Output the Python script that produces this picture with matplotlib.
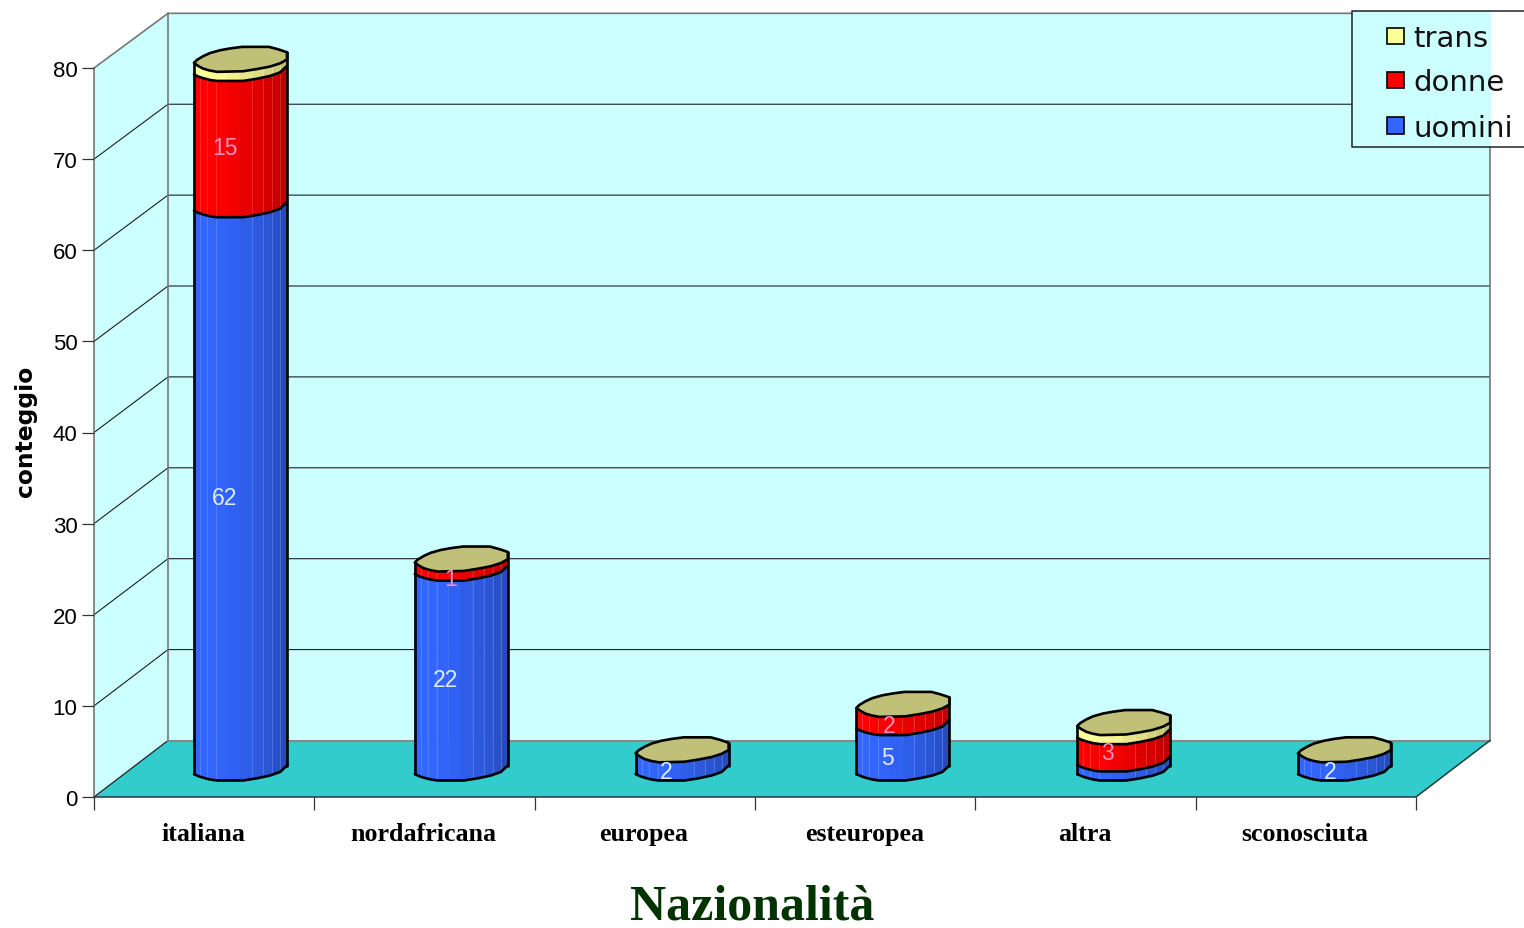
import numpy as np
import matplotlib
matplotlib.use("Agg")
import matplotlib.pyplot as plt
from matplotlib.patches import Polygon, Rectangle
from matplotlib.transforms import ScaledTranslation

categories = ["italiana", "nordafricana", "europea", "esteuropea", "altra", "sconosciuta"]
uomini = [62, 22, 2, 5, 1, 2]
donne = [15, 1, 0, 2, 3, 0]
trans = [1, 0, 0, 0, 1, 0]
series_names = ["uomini", "donne", "trans"]
y_ticks = [0, 10, 20, 30, 40, 50, 60, 70, 80]

W, H = 1524, 929
L_PX, R_PX, B_PX, T_PX = 94, 1416, 798, 69
PX_X = (R_PX - L_PX) / 6
PX_Y = (B_PX - T_PX) / 80
DX, DY = 74 / PX_X, 56.5 / PX_Y
WALL_SCALE = 0.9975

C_WALL, C_FLOOR, C_CAP = "#ccffff", "#33cccc", "#c0c078"
COLORS = ["#3366ff", "#ff0000", "#ffff99"]
C_LABEL = ["#dceaff", "#ff8fc0", "#ffffff"]
EDGE = "#000000"
LW = 1.9

fig = plt.figure(figsize=(W / 100, H / 100), dpi=100, facecolor="white")
ax = fig.add_axes([L_PX / W, 1 - B_PX / H, (R_PX - L_PX) / W, (B_PX - T_PX) / H])
ax.set_xlim(0, 6)
ax.set_ylim(0, 80)
ax.patch.set_visible(False)
for s in ax.spines.values():
    s.set_visible(False)


def poly(pts, **kw):
    p = Polygon(pts, closed=True, clip_on=False, **kw)
    ax.add_patch(p)
    return p


def line(xs, ys, **kw):
    ax.plot(xs, ys, clip_on=False, solid_capstyle="round", solid_joinstyle="round", **kw)


# walls and floor
TOP_BACK = 80 * WALL_SCALE + DY
poly([(DX, DY), (6 + DX, DY), (6 + DX, TOP_BACK), (DX, TOP_BACK)], fc=C_WALL, ec="none", zorder=0)
poly([(0, 0), (DX, DY), (DX, TOP_BACK), (0, 80)], fc=C_WALL, ec="none", zorder=0)
poly([(0, 0), (6, 0), (6 + DX, DY), (DX, DY)], fc=C_FLOOR, ec="none", zorder=0.5)
for v in y_ticks[1:-1]:
    back = v * WALL_SCALE + DY
    line([0, DX, 6 + DX], [v, back, back], color="#111111", lw=0.75, zorder=1)
line([0, DX], [0, DY], color="#222222", lw=0.9, zorder=1)
line([0, DX, 6 + DX, 6 + DX], [80, TOP_BACK, TOP_BACK, DY], color="#777777", lw=1.2, zorder=1)
line([DX, DX], [DY, TOP_BACK], color="#777777", lw=1.2, zorder=1)
line([0, 0], [0, 80], color="#777777", lw=1.2, zorder=1)
line([DX, 6 + DX], [DY, DY], color="#888888", lw=1.5, zorder=1)
line([0, 6, 6 + DX], [0, 0, DY], color="#1c3c3c", lw=1.1, zorder=1.2)

# cylinder shape, as pixel offsets from the lowest front point of a level
BAR_W = 93
FRONT_X = np.array([0, 4, 9, 16, 23, 49, 63, 76, 86, 93])
FRONT_UP = np.array([6.5, 4.5, 2.8, 1, 0, 0, 2.2, 5, 8.5, 15])
CAP = [(0, 9), (4, 6), (9, 3.3), (15, 1.5), (23, 0), (49, 0.6), (63, 2.8), (76, 5.3), (86, 8.5),
       (93, 12.3), (93, 19.6), (84, 22.6), (75, 25), (48, 25), (36, 23.4), (26, 21.6), (16, 18.8),
       (9, 15.6), (3, 12)]
STRIPS = np.array([0, 6, 13, 22, 34, 46, 58, 69, 78, 86, 93])
SHADE = [1.0, 1.0, 0.99, 0.98, 0.95, 0.91, 0.87, 0.83, 0.79, 0.74]
HILITE = [6, 13, 22, 58, 69, 78, 86]
FIRST_LEFT, STEP = (194 - L_PX) / PX_X, 220.8 / PX_X
BASE = 16.5 / PX_Y
BAR_SCALE = 0.997

LABEL_NUDGE = {("nordafricana", 1): (5, -2), ("esteuropea", 1): (2, 0), ("altra", 1): (-1, 5),
               ("italiana", 0): (0, 1), ("italiana", 1): (0, 2), ("nordafricana", 0): (0, 1),
               ("sconosciuta", 0): (1, 0)}


def curve(xpx):
    return np.interp(xpx, FRONT_X, FRONT_UP)


def shade(color, k):
    return tuple(c * k for c in matplotlib.colors.to_rgb(color))


def tint(color):
    rgb = np.array(matplotlib.colors.to_rgb(color))
    return tuple(rgb + (1 - rgb) * 0.4)


z = 3
for i, cat in enumerate(categories):
    left = FIRST_LEFT + i * STEP
    level = BASE
    for k, seg in enumerate((uomini[i], donne[i], trans[i])):
        if seg == 0:
            continue
        top = level + seg * BAR_SCALE
        xs = np.unique(np.concatenate([STRIPS, FRONT_X]))
        for a, b, sh in zip(STRIPS[:-1], STRIPS[1:], SHADE):
            inner = xs[(xs >= a) & (xs <= b)]
            px = left + inner / PX_X
            poly(list(zip(px, level + curve(inner) / PX_Y)) +
                 list(zip(px[::-1], top + curve(inner[::-1]) / PX_Y)),
                 fc=shade(COLORS[k], sh), ec=shade(COLORS[k], sh), lw=0.3, zorder=z)
        for h in HILITE:
            line([left + h / PX_X] * 2,
                 [level + curve(h) / PX_Y, top + curve(h) / PX_Y],
                 color=tint(COLORS[k]), lw=0.7, zorder=z + 0.1, alpha=0.4)
        line(left + FRONT_X / PX_X, level + FRONT_UP / PX_Y, color=EDGE, lw=LW, zorder=z + 0.2)
        z += 0.3
        if not (k == 2 or seg == 1 and k == 0):
            nx, ny = LABEL_NUDGE.get((cat, k), (0, 0))
            ax.text(left + (31 + nx) / PX_X, (level + top) / 2 + ny / PX_Y,
                    str(seg), color=C_LABEL[k], fontsize=16.5, family="Liberation Sans",
                    ha="center", va="center", zorder=20, clip_on=False)
        level = top
    # silhouette and top face
    line([left, left], [BASE + FRONT_UP[0] / PX_Y, level + 9 / PX_Y], color=EDGE, lw=LW, zorder=z + 0.3)
    line([left + BAR_W / PX_X] * 2, [BASE + FRONT_UP[-1] / PX_Y, level + 19.6 / PX_Y], color=EDGE, lw=LW, zorder=z + 0.3)
    poly([(left + a / PX_X, level + b / PX_Y) for a, b in CAP],
         fc=C_CAP, ec=EDGE, lw=LW, joinstyle="round", zorder=z + 0.4)
    z += 1

# axes
ax.set_yticks(y_ticks)
ax.set_xticks(range(7))
ax.set_xticklabels([])
ax.set_xticks(np.arange(6) + 0.5, labels=categories, minor=True)
ax.tick_params(axis="y", length=8.6, width=0.9, color="#333333", pad=3.2, labelsize=16,
               labelfontfamily="Liberation Sans")
ax.tick_params(axis="x", which="major", length=9.2, width=0.9, color="#333333")
ax.tick_params(axis="x", which="minor", length=0, pad=18.2, labelsize=18.7,
               labelfontfamily="Liberation Serif")
shift = ScaledTranslation(-1 / 100, 0, fig.dpi_scale_trans)
for t in ax.get_xticklabels(minor=True):
    t.set_fontweight("bold")
    t.set_transform(t.get_transform() + shift)

ax.set_ylabel("conteggio", fontsize=16.8, fontweight="bold", family="DejaVu Sans")
ax.yaxis.set_label_coords((25 - L_PX) / (R_PX - L_PX), 0.5 + 2 / (B_PX - T_PX))
ax.yaxis.label.set_va("center")
ax.set_xlabel("Nazionalità", fontsize=36, fontweight="bold", family="Liberation Serif", color="#003300")
ax.xaxis.set_label_coords((752 - L_PX) / (R_PX - L_PX), (B_PX - 908) / (B_PX - T_PX))
ax.xaxis.label.set_va("center")

# legend: open on the right, showing the wall and the white page behind
lax = fig.add_axes([0, 0, 1, 1], zorder=30)
lax.set_xlim(0, W)
lax.set_ylim(H - 1, -1)
lax.axis("off")
lax.add_patch(Rectangle((1352, 11), 1491 - 1352, 136, fc=C_WALL, ec="none"))
lax.add_patch(Rectangle((1491, 11), W - 1491, 136, fc="white", ec="none"))
lax.plot([W, 1352, 1352, W], [11, 11, 147, 147], color="#222222", lw=1.1)
for name, col, ty, sy in zip(series_names[::-1], COLORS[::-1], [38, 82, 128], [27.5, 71.5, 117]):
    lax.add_patch(Rectangle((1387, sy), 17, 16.5, fc=col, ec="black", lw=1.2))
    lax.text(1413, ty, name, fontsize=21, family="DejaVu Sans", color="#111111", va="center", ha="left")

fig.savefig("out.png", dpi=100)
